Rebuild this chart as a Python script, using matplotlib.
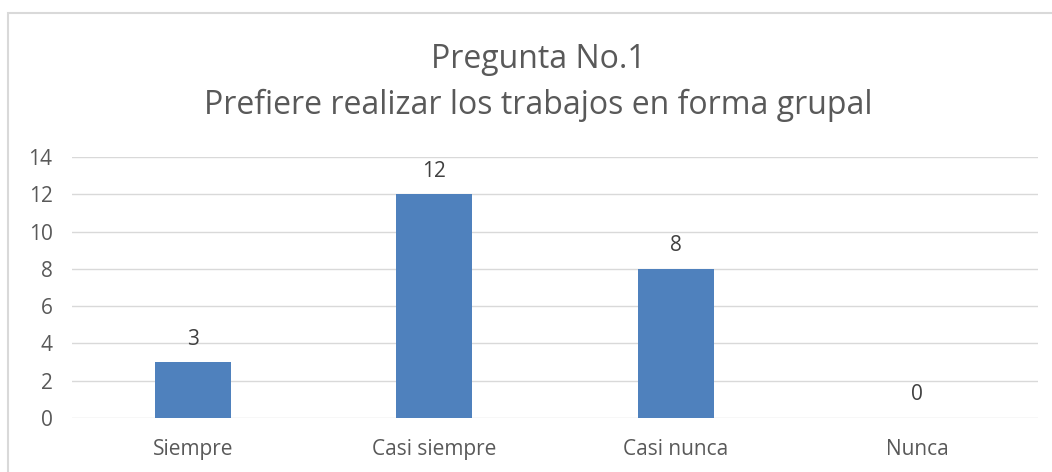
import matplotlib
matplotlib.use("Agg")
import matplotlib.pyplot as plt
from matplotlib.patches import Rectangle

categories = ["Siempre", "Casi siempre", "Casi nunca", "Nunca"]
values = [3, 12, 8, 0]
yticks = [0, 2, 4, 6, 8, 10, 12, 14]
title_lines = ["Pregunta No.1", "Prefiere realizar los trabajos en forma grupal"]

plt.rcParams['font.family'] = ['Open Sans', 'DejaVu Sans']
W, H = 1052, 472
fig = plt.figure(figsize=(W/100, H/100), dpi=100)
fig.patch.set_facecolor("white")

# chart border
fig.patches.append(Rectangle((8/W, -0.1), 1.2, 1 - 13/H + 0.1, transform=fig.transFigure,
                             fill=False, edgecolor="#D9D9D9", linewidth=1.5))

ax = fig.add_axes([72/W, 1 - 418/H, (1038-72)/W, (418-157)/H])
x = range(len(categories))
ax.bar(x, values, width=0.315, color="#4F81BD", zorder=3)
ax.set_xlim(-0.5, len(categories) - 0.5)
ax.set_ylim(0, 14)
ax.set_yticks(yticks)
ax.set_xticks(list(x))
ax.set_xticklabels(categories)
ax.grid(axis="y", color="#D9D9D9", linewidth=1, zorder=0)
for s in ax.spines.values():
    s.set_visible(False)
ax.tick_params(length=0, colors="#595959", labelsize=15)
ax.tick_params(axis="x", pad=15)
ax.tick_params(axis="y", pad=14)

for xi, v in zip(x, values):
    ax.annotate(str(v), (xi, v), xytext=(0, 9), textcoords="offset points",
                ha="center", va="bottom", fontsize=15, color="#404040")

fig.text(538/W, 1 - 59/H, title_lines[0], ha="center", va="center", fontsize=23, color="#595959")
fig.text(538/W, 1 - 105/H, title_lines[1], ha="center", va="center", fontsize=23, color="#595959")

fig.savefig("out.png", dpi=100, facecolor="white")
